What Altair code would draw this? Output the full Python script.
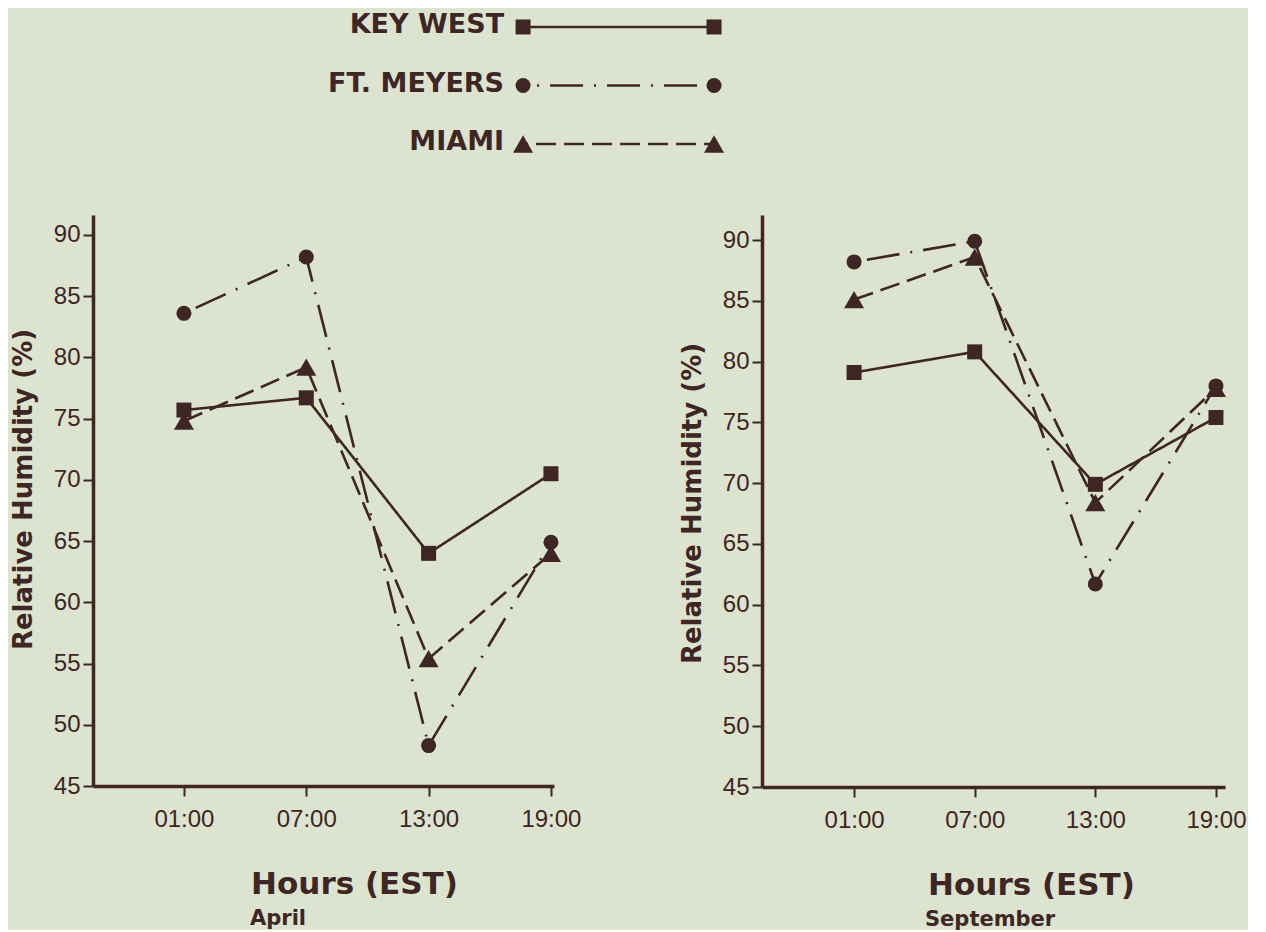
import altair as alt
import pandas as pd

# ---------------- data ----------------
hours = [1, 7, 13, 19]
hour_labels = ["01:00", "07:00", "13:00", "19:00"]
stations = ["KEY WEST", "FT. MEYERS", "MIAMI"]
legend_rows = [0, 1, 2]
y_ticks = [45, 50, 55, 60, 65, 70, 75, 80, 85, 90]

april_key_west = [75.7, 76.7, 64.0, 70.5]
april_ft_meyers = [83.6, 88.2, 48.3, 64.9]
april_miami = [74.8, 79.2, 55.4, 64.0]

sept_key_west = [79.1, 80.8, 69.9, 75.4]
sept_ft_meyers = [88.2, 89.9, 61.7, 78.0]
sept_miami = [85.1, 88.6, 68.4, 77.8]

# ---------------- style ----------------
INK = "#3d2623"
BG = "#dce3cf"
plot_dashes = [[1, 0], [22, 7, 2, 7], [12, 7]]
legend_dashes = [[1, 0], [2, 11, 33, 11], [20, 8]]
shapes = ["square", "circle", "triangle-up"]
MARK_SIZE = 225
TRI_SIZE = 400


def long_df(kw, fm, mi):
    rows = []
    # draw order: triangles below, then squares, circles on top
    for st, vals in (("MIAMI", mi), ("KEY WEST", kw), ("FT. MEYERS", fm)):
        for h, v in zip(hours, vals):
            rows.append({"station": st, "hour": h, "rh": v})
    return pd.DataFrame(rows)


april = long_df(april_key_west, april_ft_meyers, april_miami)
sept = long_df(sept_key_west, sept_ft_meyers, sept_miami)

label_expr = "".join(
    f"datum.value == {h} ? '{l}' : " for h, l in zip(hours, hour_labels)
) + "''"

shape_enc = alt.Shape(
    "station:N", scale=alt.Scale(domain=stations, range=shapes), legend=None
)
size_enc = alt.condition(
    alt.datum.station == "MIAMI", alt.value(TRI_SIZE), alt.value(MARK_SIZE)
)


def panel(df, xdom, ydom, w, h, tx, ty_y, month, month_dx):
    x = alt.X(
        "hour:Q",
        scale=alt.Scale(domain=xdom, nice=False, zero=False),
        axis=alt.Axis(
            values=hours,
            labelExpr=label_expr,
            title="Hours (EST)",
            titleX=tx,
            titleY=107,
            titleAlign="center",
            titleBaseline="alphabetic",
            titleFontSize=31,
            labelPadding=11,
        ),
    )
    y = alt.Y(
        "rh:Q",
        scale=alt.Scale(domain=ydom, nice=False, zero=False),
        axis=alt.Axis(
            values=y_ticks,
            title="Relative Humidity (%)",
            titleX=-62,
            titleY=ty_y,
            titleAngle=-90,
            titleAlign="center",
            titleBaseline="alphabetic",
            titleFontSize=26,
            labelPadding=3,
        ),
    )
    lines = alt.Chart(df).mark_line(strokeWidth=2.6, color=INK).encode(
        x=x,
        y=y,
        strokeDash=alt.StrokeDash(
            "station:N",
            scale=alt.Scale(domain=stations, range=plot_dashes),
            legend=None,
        ),
    )
    pts = alt.Chart(df).mark_point(
        filled=True, opacity=1, color=INK, strokeWidth=0
    ).encode(x=x, y=y, shape=shape_enc, size=size_enc)
    return alt.layer(lines, pts).properties(
        width=w,
        height=h,
        title=alt.TitleParams(
            month,
            orient="bottom",
            anchor="start",
            frame="group",
            dx=month_dx,
            offset=9,
            font="DejaVu Sans",
            fontSize=21,
            fontWeight="bold",
            color=INK,
        ),
    )


left = panel(april, [-3.46, 19.15], [45, 91.63], 461, 571, 261, 274, "April", 157)
right = panel(sept, [-3.58, 19.45], [45, 92.06], 463, 572, 269, 288, "September", 163)

# ---------------- legend ----------------
leg_df = pd.DataFrame({"station": stations, "row": legend_rows})
lx = alt.Scale(domain=[-2.252, 3.508])
ly = alt.Y(
    "row:Q",
    scale=alt.Scale(domain=[-0.29, 2.29], reverse=True, nice=False, zero=False),
    axis=None,
)
leg_rule = alt.Chart(leg_df).mark_rule(
    strokeWidth=2.6, color=INK, strokeDashOffset=43
).encode(
    x=alt.X(datum=0, scale=lx, axis=None),
    x2=alt.X2(datum=1),
    y=ly,
    strokeDash=alt.StrokeDash(
        "station:N", scale=alt.Scale(domain=stations, range=legend_dashes), legend=None
    ),
)


def leg_pts(pos):
    return alt.Chart(leg_df).mark_point(
        filled=True, opacity=1, color=INK, strokeWidth=0
    ).encode(
        x=alt.X(datum=pos, scale=lx, axis=None),
        y=ly,
        shape=shape_enc,
        size=size_enc,
    )


leg_text = alt.Chart(leg_df).mark_text(
    align="right",
    baseline="middle",
    dx=-19,
    dy=-2,
    font="DejaVu Sans",
    fontWeight="bold",
    fontSize=27,
    color=INK,
).encode(x=alt.X(datum=0, scale=lx, axis=None), y=ly, text="station:N")

legend = alt.layer(leg_rule, leg_pts(0), leg_pts(1), leg_text).properties(
    width=1100, height=151
)

panels = alt.hconcat(left, right, spacing=208, bounds="flush")

chart = (
    alt.vconcat(legend, panels, spacing=54)
    .properties(padding={"left": 2, "top": 2, "right": 2, "bottom": 0})
    .configure(background=BG)
    .configure_view(stroke=None)
    .configure_axis(
        grid=False,
        domainColor=INK,
        domainWidth=3.5,
        tickColor=INK,
        tickWidth=2,
        tickSize=10,
        labelFont="Liberation Sans",
        labelFontSize=24,
        labelColor=INK,
        titleFont="DejaVu Sans",
        titleFontWeight="bold",
        titleColor=INK,
    )
)

chart.save("out.html", embed_options={"renderer": "svg", "actions": False})
